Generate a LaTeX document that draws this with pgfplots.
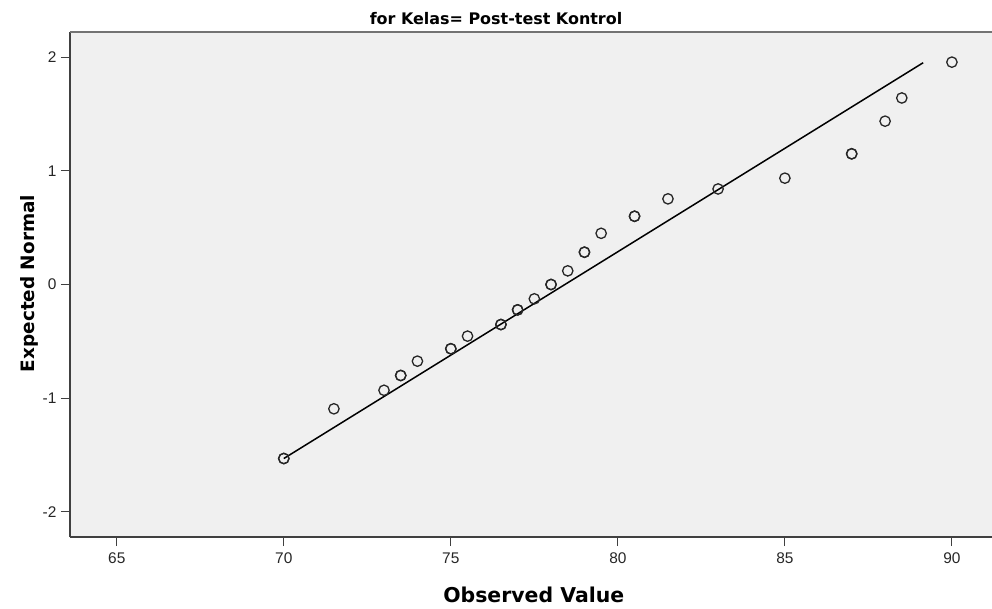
\documentclass[border=0pt]{standalone}
\usepackage{pgfplots}
\pgfplotsset{compat=1.18}
\usepackage{fontspec}
\setmainfont{DejaVu Sans}
\newfontfamily\tickfont{Liberation Sans}
\begin{document}
\begin{tikzpicture}
\path[use as bounding box] (-70bp,-72bp) rectangle (922bp,537bp);
\begin{axis}[
  at={(0,0)}, anchor=south west,
  scale only axis, width=922bp, height=505bp,
  xmin=63.6, xmax=91.2, ymin=-2.22, ymax=2.22,
  axis background/.style={fill=gray!12},
  axis x line*=bottom, axis y line*=left,
  axis line style={-, line width=1.3pt, draw=black!75},
  xtick={65,70,75,80,85,90}, ytick={-2,-1,0,1,2},
  tick align=outside, major tick length=9bp,
  tick style={line width=1pt, draw=black!75},
  ticklabel style={font=\tickfont\fontsize{15.5}{16}\selectfont, text=black!85},
  xticklabel style={yshift=-3bp},
  yticklabel style={xshift=-1bp},
  /pgf/number format/assume math mode=true,
  xlabel={Observed Value}, ylabel={Expected Normal},
  xlabel style={at={(axis description cs:0.503,-0.115)}, anchor=center, font=\bfseries\fontsize{20.5}{21}\selectfont},
  ylabel style={at={(axis description cs:-0.0445,0.502)}, anchor=center, font=\bfseries\fontsize{18.5}{19}\selectfont},
  clip=false,
]
\addplot[black, line width=1.5pt] coordinates {(70,-1.53) (89.14,1.95)};
\addplot[only marks, mark=o, mark size=5.2bp, mark options={line width=1.3pt, draw=black!85}] coordinates {
(70,-1.53) (70,-1.53)
(71.5,-1.093)
(73.0,-0.93)
(73.5,-0.80) (73.5,-0.80)
(74.0,-0.674)
(75.0,-0.565) (75.0,-0.565)
(75.5,-0.454)
(76.5,-0.352) (76.5,-0.352)
(77.0,-0.223) (77.0,-0.223)
(77.5,-0.126)
(78.0,0) (78.0,0)
(78.5,0.12)
(79.0,0.284) (79.0,0.284)
(79.5,0.45)
(80.5,0.60) (80.5,0.60)
(81.5,0.753)
(83.0,0.84)
(85.0,0.935)
(87.0,1.149) (87.0,1.149)
(88.0,1.436)
(88.5,1.64)
(90.0,1.955)
};
\end{axis}
\draw[black!55, line width=1.5pt] (0,505bp) -- (922bp,505bp);
\node[font=\bfseries\fontsize{16}{16}\selectfont] at (426bp,518.5bp) {for Kelas= Post-test Kontrol};
\end{tikzpicture}
\end{document}
